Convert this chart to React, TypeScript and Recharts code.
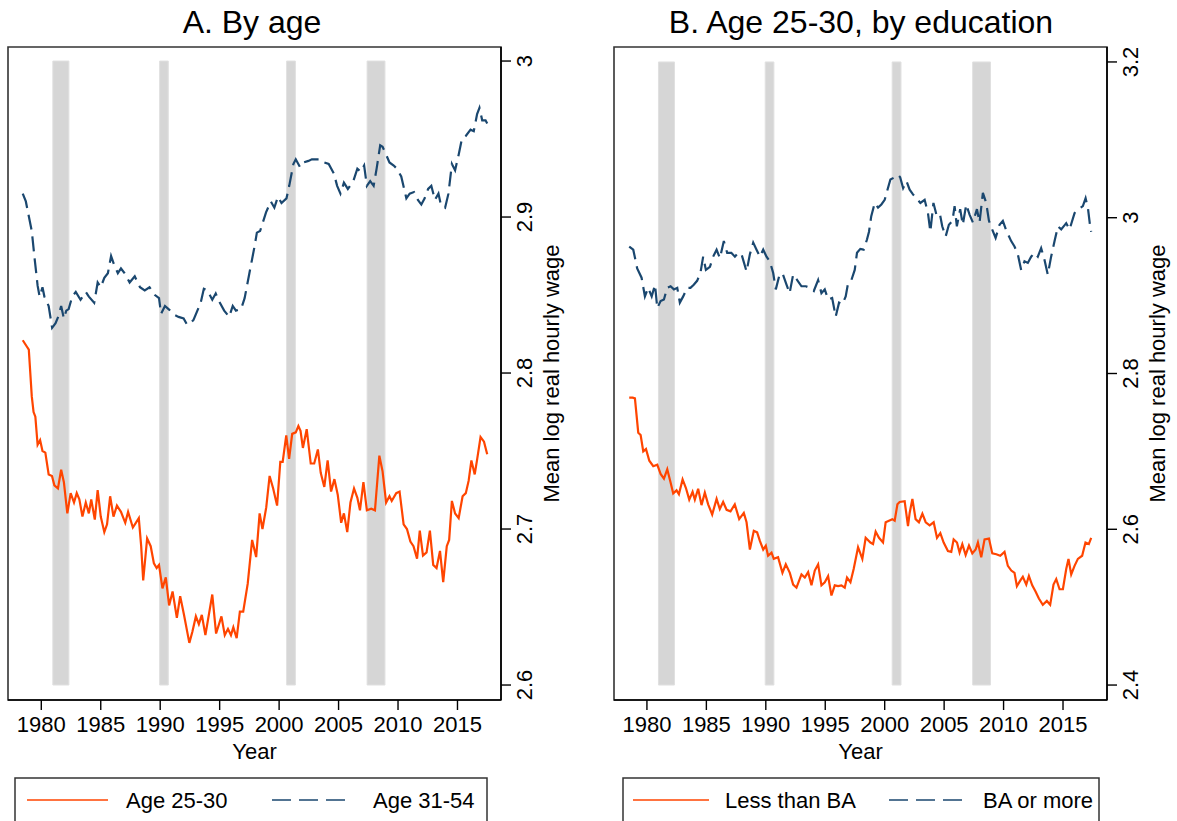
import React from 'react'
import { LineChart, Line, XAxis, YAxis, ReferenceArea } from 'recharts'

const yearTicks = [1980, 1985, 1990, 1995, 2000, 2005, 2010, 2015]
const recessionStart = [1980.97, 1989.95, 2000.63, 2007.4]
const recessionEnd = [1982.32, 1990.68, 2001.37, 2008.9]

const ageTicks = [2.6, 2.7, 2.8, 2.9, 3]
const eduTicks = [2.4, 2.6, 2.8, 3, 3.2]

// [year, mean log real hourly wage]
const age2530: [number, number][] = [
  [1978.44, 2.821], [1978.78, 2.817], [1978.95, 2.815], [1979.2, 2.785], [1979.35, 2.775],
  [1979.5, 2.772], [1979.69, 2.754], [1979.9, 2.757], [1980.1, 2.75], [1980.34, 2.749],
  [1980.62, 2.735], [1980.9, 2.734], [1981.1, 2.728], [1981.4, 2.726], [1981.67, 2.738],
  [1981.9, 2.73], [1982.19, 2.71], [1982.47, 2.723], [1982.75, 2.717], [1982.98, 2.723],
  [1983.2, 2.719], [1983.46, 2.708], [1983.74, 2.717], [1984.0, 2.71], [1984.2, 2.719],
  [1984.5, 2.706], [1984.74, 2.725], [1985.0, 2.708], [1985.3, 2.698], [1985.53, 2.703],
  [1985.79, 2.721], [1986.07, 2.708], [1986.36, 2.715], [1986.7, 2.711], [1987.06, 2.704],
  [1987.3, 2.711], [1987.7, 2.701], [1987.95, 2.704], [1988.2, 2.707], [1988.4, 2.689],
  [1988.57, 2.667], [1988.9, 2.694], [1989.2, 2.689], [1989.47, 2.678], [1989.7, 2.675],
  [1989.9, 2.677], [1990.19, 2.662], [1990.47, 2.669], [1990.75, 2.651], [1991.04, 2.66],
  [1991.4, 2.643], [1991.68, 2.657], [1992.0, 2.645], [1992.45, 2.627], [1992.7, 2.634],
  [1993.0, 2.644], [1993.25, 2.639], [1993.5, 2.645], [1993.8, 2.632], [1994.38, 2.658],
  [1994.7, 2.633], [1995.15, 2.644], [1995.43, 2.632], [1995.7, 2.636], [1995.95, 2.632],
  [1996.15, 2.637], [1996.43, 2.63], [1996.7, 2.647], [1996.98, 2.647], [1997.36, 2.665],
  [1997.73, 2.693], [1998.07, 2.682], [1998.36, 2.71], [1998.6, 2.7], [1998.92, 2.714],
  [1999.2, 2.734], [1999.5, 2.726], [1999.83, 2.715], [2000.1, 2.743], [2000.3, 2.743],
  [2000.6, 2.76], [2000.84, 2.745], [2001.1, 2.761], [2001.4, 2.762], [2001.62, 2.766],
  [2001.8, 2.763], [2002.0, 2.752], [2002.32, 2.764], [2002.66, 2.742], [2002.95, 2.742],
  [2003.26, 2.751], [2003.5, 2.736], [2003.8, 2.727], [2004.08, 2.744], [2004.37, 2.724],
  [2004.65, 2.732], [2004.93, 2.722], [2005.22, 2.704], [2005.45, 2.71], [2005.73, 2.698],
  [2006.0, 2.717], [2006.3, 2.726], [2006.58, 2.72], [2006.8, 2.712], [2007.09, 2.73],
  [2007.38, 2.712], [2007.75, 2.713], [2008.06, 2.712], [2008.43, 2.747], [2008.7, 2.737],
  [2009.0, 2.717], [2009.28, 2.721], [2009.47, 2.718], [2009.85, 2.723], [2010.13, 2.724],
  [2010.47, 2.703], [2010.75, 2.7], [2011.04, 2.692], [2011.3, 2.689], [2011.6, 2.681],
  [2011.83, 2.699], [2012.1, 2.683], [2012.4, 2.685], [2012.68, 2.699], [2012.96, 2.677],
  [2013.24, 2.675], [2013.53, 2.686], [2013.8, 2.666], [2014.1, 2.689], [2014.3, 2.693],
  [2014.53, 2.718], [2014.8, 2.71], [2015.1, 2.707], [2015.43, 2.721], [2015.7, 2.723],
  [2015.94, 2.731], [2016.17, 2.744], [2016.45, 2.735], [2016.66, 2.745], [2016.94, 2.759],
  [2017.23, 2.756], [2017.5, 2.748],
]

const age3154: [number, number][] = [
  [1978.44, 2.915], [1978.7, 2.91], [1979.2, 2.891], [1979.43, 2.874], [1979.69, 2.856],
  [1979.86, 2.849], [1980.1, 2.855], [1980.26, 2.849], [1980.62, 2.843], [1980.91, 2.829],
  [1981.2, 2.832], [1981.47, 2.837], [1981.67, 2.843], [1981.9, 2.835], [1982.1, 2.84],
  [1982.3, 2.841], [1982.6, 2.849], [1982.9, 2.852], [1983.3, 2.847], [1983.74, 2.852],
  [1984.0, 2.849], [1984.45, 2.845], [1984.74, 2.858], [1985.0, 2.855], [1985.3, 2.861],
  [1985.6, 2.864], [1985.87, 2.875], [1986.1, 2.87], [1986.44, 2.864], [1986.7, 2.867],
  [1987.0, 2.864], [1987.43, 2.858], [1987.86, 2.862], [1988.3, 2.855], [1988.7, 2.853],
  [1989.1, 2.855], [1989.56, 2.85], [1989.9, 2.848], [1990.07, 2.838], [1990.4, 2.843],
  [1990.7, 2.841], [1991.26, 2.837], [1991.54, 2.836], [1991.97, 2.835], [1992.26, 2.831],
  [1992.55, 2.832], [1992.8, 2.834], [1993.4, 2.845], [1993.67, 2.854], [1993.96, 2.853],
  [1994.38, 2.847], [1994.67, 2.851], [1994.95, 2.846], [1995.38, 2.84], [1995.8, 2.836],
  [1996.1, 2.843], [1996.37, 2.84], [1996.8, 2.841], [1997.1, 2.848], [1997.5, 2.864],
  [1997.93, 2.881], [1998.13, 2.89], [1998.4, 2.891], [1998.9, 2.903], [1999.3, 2.91],
  [1999.6, 2.906], [1999.9, 2.913], [2000.2, 2.909], [2000.62, 2.912], [2000.85, 2.92],
  [2001.2, 2.934], [2001.4, 2.937], [2001.76, 2.932], [2002.04, 2.935], [2002.47, 2.936],
  [2002.75, 2.937], [2003.2, 2.937], [2003.5, 2.937], [2003.8, 2.935], [2004.17, 2.934],
  [2004.6, 2.928], [2004.88, 2.92], [2005.16, 2.915], [2005.45, 2.922], [2005.78, 2.918],
  [2006.24, 2.923], [2006.58, 2.931], [2006.86, 2.929], [2007.15, 2.933], [2007.38, 2.92],
  [2007.66, 2.923], [2007.95, 2.92], [2008.2, 2.931], [2008.5, 2.946], [2008.7, 2.945],
  [2009.0, 2.94], [2009.28, 2.935], [2009.64, 2.933], [2009.9, 2.931], [2010.27, 2.926],
  [2010.7, 2.912], [2010.98, 2.915], [2011.34, 2.916], [2011.67, 2.911], [2011.96, 2.908],
  [2012.24, 2.912], [2012.53, 2.918], [2012.8, 2.92], [2013.1, 2.911], [2013.4, 2.915],
  [2013.6, 2.908], [2013.96, 2.906], [2014.24, 2.915], [2014.53, 2.934], [2014.8, 2.93],
  [2015.1, 2.94], [2015.37, 2.95], [2015.7, 2.952], [2016.1, 2.956], [2016.37, 2.955],
  [2016.65, 2.966], [2016.85, 2.97], [2017.08, 2.962], [2017.36, 2.962], [2017.5, 2.96],
]

const lessThanBA: [number, number][] = [
  [1978.51, 2.769], [1978.8, 2.769], [1978.99, 2.768], [1979.27, 2.724], [1979.47, 2.721],
  [1979.69, 2.7], [1979.92, 2.703], [1980.2, 2.688], [1980.53, 2.681], [1980.87, 2.683],
  [1981.15, 2.671], [1981.43, 2.665], [1981.71, 2.677], [1981.99, 2.66], [1982.21, 2.646],
  [1982.49, 2.65], [1982.69, 2.645], [1983.0, 2.664], [1983.28, 2.653], [1983.56, 2.638],
  [1983.84, 2.648], [1984.03, 2.638], [1984.31, 2.652], [1984.59, 2.631], [1984.87, 2.647],
  [1985.15, 2.632], [1985.49, 2.619], [1985.86, 2.639], [1986.13, 2.626], [1986.41, 2.635],
  [1986.7, 2.625], [1987.03, 2.623], [1987.39, 2.632], [1987.76, 2.613], [1988.15, 2.621],
  [1988.38, 2.609], [1988.66, 2.574], [1988.99, 2.598], [1989.27, 2.596], [1989.5, 2.585],
  [1989.78, 2.574], [1990.0, 2.579], [1990.19, 2.566], [1990.48, 2.57], [1990.67, 2.562],
  [1991.03, 2.564], [1991.4, 2.544], [1991.68, 2.555], [1992.02, 2.544], [1992.3, 2.529],
  [1992.58, 2.525], [1993.0, 2.542], [1993.28, 2.538], [1993.56, 2.545], [1993.84, 2.528],
  [1994.12, 2.547], [1994.4, 2.555], [1994.68, 2.528], [1994.96, 2.532], [1995.24, 2.54],
  [1995.52, 2.515], [1995.8, 2.528], [1996.08, 2.527], [1996.36, 2.528], [1996.64, 2.525],
  [1996.83, 2.538], [1997.12, 2.532], [1997.39, 2.549], [1997.76, 2.577], [1998.12, 2.562],
  [1998.4, 2.589], [1998.8, 2.583], [1999.02, 2.581], [1999.24, 2.597], [1999.52, 2.589],
  [1999.86, 2.583], [2000.08, 2.609], [2000.36, 2.611], [2000.64, 2.613], [2000.84, 2.611],
  [2001.07, 2.632], [2001.26, 2.635], [2001.68, 2.636], [2001.96, 2.604], [2002.1, 2.621],
  [2002.33, 2.639], [2002.6, 2.613], [2002.88, 2.609], [2003.17, 2.62], [2003.45, 2.609],
  [2003.78, 2.605], [2004.12, 2.609], [2004.4, 2.589], [2004.68, 2.595], [2004.96, 2.583],
  [2005.32, 2.572], [2005.6, 2.571], [2005.8, 2.587], [2006.08, 2.583], [2006.3, 2.57],
  [2006.53, 2.581], [2006.81, 2.567], [2007.09, 2.579], [2007.37, 2.569], [2007.65, 2.574],
  [2007.84, 2.583], [2008.12, 2.564], [2008.4, 2.587], [2008.77, 2.588], [2009.05, 2.569],
  [2009.39, 2.568], [2009.72, 2.566], [2010.08, 2.571], [2010.36, 2.553], [2010.65, 2.547],
  [2010.92, 2.544], [2011.12, 2.527], [2011.4, 2.534], [2011.62, 2.539], [2011.91, 2.529],
  [2012.13, 2.54], [2012.41, 2.528], [2012.69, 2.52], [2012.97, 2.511], [2013.3, 2.503],
  [2013.64, 2.508], [2013.92, 2.503], [2014.2, 2.529], [2014.43, 2.536], [2014.71, 2.523],
  [2014.99, 2.523], [2015.27, 2.549], [2015.46, 2.562], [2015.69, 2.542], [2015.97, 2.553],
  [2016.25, 2.562], [2016.61, 2.566], [2016.89, 2.583], [2017.17, 2.581], [2017.37, 2.589],
]

const baOrMore: [number, number][] = [
  [1978.51, 2.963], [1978.85, 2.959], [1979.18, 2.935], [1979.55, 2.923], [1979.83, 2.899],
  [1980.1, 2.91], [1980.4, 2.899], [1980.68, 2.914], [1980.87, 2.884], [1981.15, 2.893],
  [1981.43, 2.895], [1981.7, 2.91], [1981.99, 2.912], [1982.27, 2.908], [1982.55, 2.91],
  [1982.77, 2.891], [1983.05, 2.899], [1983.38, 2.91], [1983.66, 2.91], [1983.94, 2.914],
  [1984.22, 2.919], [1984.5, 2.929], [1984.73, 2.95], [1984.96, 2.933], [1985.3, 2.937],
  [1985.57, 2.95], [1985.86, 2.959], [1986.14, 2.948], [1986.47, 2.97], [1986.75, 2.955],
  [1987.1, 2.955], [1987.4, 2.95], [1987.68, 2.955], [1987.96, 2.953], [1988.38, 2.931],
  [1988.66, 2.953], [1988.94, 2.968], [1989.22, 2.959], [1989.5, 2.95], [1989.78, 2.959],
  [1990.06, 2.95], [1990.34, 2.944], [1990.62, 2.929], [1990.84, 2.908], [1991.12, 2.925],
  [1991.4, 2.929], [1991.74, 2.914], [1992.0, 2.903], [1992.3, 2.927], [1992.64, 2.92],
  [1993.0, 2.912], [1993.37, 2.912], [1993.7, 2.91], [1994.04, 2.906], [1994.4, 2.92],
  [1994.68, 2.903], [1994.96, 2.908], [1995.24, 2.895], [1995.58, 2.897], [1995.88, 2.873],
  [1996.16, 2.891], [1996.44, 2.889], [1996.72, 2.899], [1996.92, 2.916], [1997.2, 2.92],
  [1997.48, 2.933], [1997.67, 2.955], [1997.95, 2.96], [1998.23, 2.959], [1998.51, 2.972],
  [1998.68, 2.982], [1998.87, 3.002], [1999.16, 3.019], [1999.44, 3.013], [1999.72, 3.017],
  [2000.0, 3.023], [2000.2, 3.034], [2000.48, 3.049], [2000.84, 3.052], [2001.12, 3.055],
  [2001.3, 3.052], [2001.55, 3.038], [2001.83, 3.047], [2002.1, 3.036], [2002.38, 3.03],
  [2002.66, 3.025], [2003.0, 3.019], [2003.36, 3.023], [2003.64, 3.006], [2003.84, 2.982],
  [2004.1, 3.019], [2004.35, 3.004], [2004.63, 3.006], [2004.84, 2.989], [2005.13, 2.976],
  [2005.4, 2.991], [2005.7, 2.996], [2005.88, 3.015], [2006.07, 2.989], [2006.35, 3.011],
  [2006.57, 2.991], [2006.86, 3.017], [2007.14, 3.004], [2007.42, 2.994], [2007.76, 3.011],
  [2007.98, 2.994], [2008.26, 3.032], [2008.54, 3.019], [2008.77, 2.996], [2009.04, 2.985],
  [2009.33, 2.974], [2009.66, 2.991], [2009.94, 2.996], [2010.22, 2.984], [2010.64, 2.97],
  [2010.92, 2.963], [2011.2, 2.953], [2011.48, 2.933], [2011.76, 2.944], [2012.04, 2.942],
  [2012.32, 2.95], [2012.6, 2.955], [2012.88, 2.95], [2013.16, 2.961], [2013.44, 2.946],
  [2013.72, 2.927], [2014.0, 2.95], [2014.29, 2.97], [2014.57, 2.989], [2014.85, 2.985],
  [2015.27, 2.993], [2015.55, 2.985], [2015.97, 3.006], [2016.39, 3.012], [2016.67, 3.015],
  [2016.9, 3.025], [2017.1, 3.012], [2017.28, 2.989], [2017.37, 2.982],
]

const ORANGE = '#ff4500'
const NAVY = '#1a476f'
const FONT = '"Liberation Sans", Arial, Helvetica, sans-serif'

const toRows = (pts: [number, number][]) => pts.map(([year, v]) => ({ year, v }))

function RotatedTick({ x, y, payload }: any) {
  const bx = x + 19
  return (
    <text x={bx} y={y} transform={`rotate(-90 ${bx} ${y})`} textAnchor="middle" fontSize={22} fill="#000">
      {payload.value}
    </text>
  )
}

function XTick({ x, y, payload }: any) {
  return (
    <text x={x} y={y + 16} textAnchor="middle" fontSize={22} fill="#000">
      {payload.value}
    </text>
  )
}

interface PanelProps {
  left: number
  xDomain: [number, number]
  yDomain: [number, number]
  yTicks: number[]
  bandLow: number
  bandHigh: number
  young: [number, number][]
  old: [number, number][]
}

function Panel({ left, xDomain, yDomain, yTicks, bandLow, bandHigh, young, old }: PanelProps) {
  return (
    <div style={{ position: 'absolute', left, top: 0 }}>
      <LineChart width={606} height={774} margin={{ top: 47, right: 0, bottom: 12, left: 8 }}>
        <XAxis
          type="number"
          dataKey="year"
          domain={xDomain}
          ticks={yearTicks}
          allowDataOverflow
          height={62}
          tickSize={10}
          tickMargin={6}
          axisLine={{ stroke: '#000', strokeWidth: 1.6 }}
          tickLine={{ stroke: '#000', strokeWidth: 1.4 }}
          tick={<XTick />}
          label={{ value: 'Year', position: 'insideBottom', offset: 3, fontSize: 22, fill: '#000' }}
        />
        <YAxis
          orientation="right"
          type="number"
          domain={yDomain}
          ticks={yTicks}
          allowDataOverflow
          width={105}
          tickSize={10}
          tickMargin={2}
          axisLine={{ stroke: '#000', strokeWidth: 1.6 }}
          tickLine={{ stroke: '#000', strokeWidth: 1.4 }}
          tick={<RotatedTick />}
          label={{
            value: 'Mean log real hourly wage',
            angle: -90,
            position: 'center',
            dx: -2,
            fontSize: 22,
            fill: '#000',
          }}
        />
        {recessionStart.map((s, i) => (
          <ReferenceArea
            key={i}
            x1={s}
            x2={recessionEnd[i]}
            y1={bandLow}
            y2={bandHigh}
            fill="#d6d6d6"
            fillOpacity={1}
            stroke="#e0e0e0"
            strokeWidth={1}
            ifOverflow="visible"
          />
        ))}
        <ReferenceArea
          x1={xDomain[0]}
          x2={xDomain[1]}
          y1={yDomain[0]}
          y2={yDomain[1]}
          fill="none"
          stroke="#333"
          strokeWidth={1.6}
          ifOverflow="visible"
        />
        <Line
          data={toRows(old)}
          dataKey="v"
          type="linear"
          stroke={NAVY}
          strokeWidth={2.2}
          strokeDasharray="15 7"
          dot={false}
          isAnimationActive={false}
        />
        <Line
          data={toRows(young)}
          dataKey="v"
          type="linear"
          stroke={ORANGE}
          strokeWidth={2.2}
          dot={false}
          isAnimationActive={false}
        />
      </LineChart>
    </div>
  )
}

function Overlay() {
  const txt = { fontSize: 22, fill: '#000' }
  return (
    <svg width={1177} height={821} style={{ position: 'absolute', left: 0, top: 0, pointerEvents: 'none' }}>
      <text x={252} y={33} textAnchor="middle" fontSize={32} fill="#000">A. By age</text>
      <text x={861} y={33} textAnchor="middle" fontSize={32} fill="#000">B. Age 25-30, by education</text>

      <rect x={15} y={778} width={472} height={70} fill="#fff" stroke="#333" strokeWidth={1.5} />
      <line x1={27} y1={800} x2={108} y2={800} stroke={ORANGE} strokeWidth={1.6} />
      <text x={126} y={808} {...txt}>Age 25-30</text>
      <line x1={272} y1={800} x2={345} y2={800} stroke={NAVY} strokeWidth={1.6} strokeDasharray="19 8" />
      <text x={373} y={808} {...txt}>Age 31-54</text>

      <rect x={623} y={778} width={476} height={70} fill="#fff" stroke="#333" strokeWidth={1.5} />
      <line x1={633} y1={800} x2={709} y2={800} stroke={ORANGE} strokeWidth={1.6} />
      <text x={725} y={808} {...txt}>Less than BA</text>
      <line x1={889} y1={800} x2={962} y2={800} stroke={NAVY} strokeWidth={1.6} strokeDasharray="19 8" />
      <text x={983} y={808} {...txt}>BA or more</text>
    </svg>
  )
}

export default function App() {
  return (
    <div
      style={{
        position: 'absolute',
        left: 0,
        top: 0,
        width: 1177,
        height: 821,
        overflow: 'hidden',
        background: '#fff',
        fontFamily: FONT,
      }}
    >
      <Panel
        left={0}
        xDomain={[1977.2, 2018.66]}
        yDomain={[2.5904, 3.009]}
        yTicks={ageTicks}
        bandLow={2.6}
        bandHigh={3}
        young={age2530}
        old={age3154}
      />
      <Panel
        left={606}
        xDomain={[1977.23, 2018.7]}
        yDomain={[2.3808, 3.2192]}
        yTicks={eduTicks}
        bandLow={2.4}
        bandHigh={3.2}
        young={lessThanBA}
        old={baOrMore}
      />
      <Overlay />
    </div>
  )
}
